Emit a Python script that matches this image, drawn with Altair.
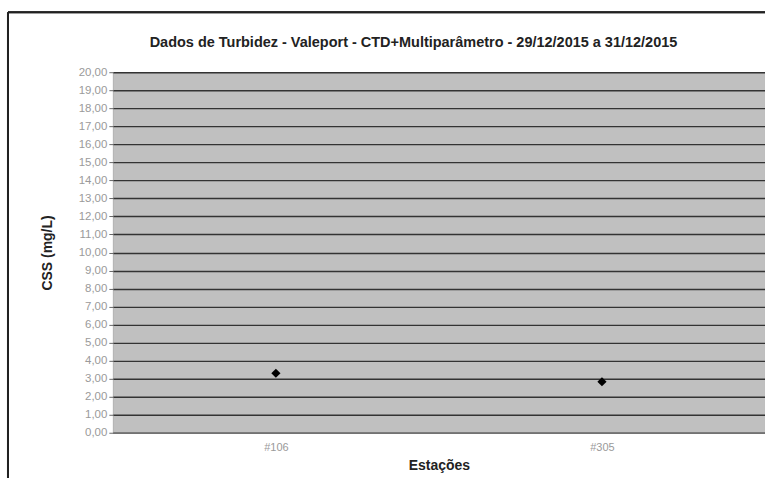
import altair as alt
import pandas as pd

estacoes = ["#106", "#305"]
css = [3.3, 2.83]
y_ticks = list(range(0, 21))
titulo = "Dados de Turbidez - Valeport - CTD+Multiparâmetro - 29/12/2015 a 31/12/2015"

df = pd.DataFrame({"Estação": estacoes, "CSS": css})

label_font = "Liberation Sans"

points = alt.Chart(df).mark_point(
    shape="diamond", filled=True, size=85, color="black", opacity=1
).encode(
    x=alt.X("Estação:N", sort=estacoes,
            scale=alt.Scale(paddingInner=0, paddingOuter=0),
            axis=alt.Axis(title="Estações", labelAngle=0, labelFontSize=11,
                          labelColor="#9a9a9a", labelFont=label_font,
                          titleFont=label_font, titleFontSize=14, titleFontWeight="bold",
                          titleColor="#222222", titlePadding=6, ticks=False,
                          domain=True, domainColor="#8a8a8a", labelPadding=9)),
    y=alt.Y("CSS:Q", scale=alt.Scale(domain=[0, 20], nice=False),
            axis=alt.Axis(title="CSS (mg/L)", values=y_ticks,
                          labelExpr="replace(format(datum.value, '.2f'), '.', ',')",
                          labelFontSize=11.5, labelColor="#9a9a9a", labelFont=label_font,
                          titleFont=label_font, titleFontSize=14, titleFontWeight="bold",
                          titleColor="#222222", titlePadding=24,
                          tickSize=4, tickColor="#666666", domain=False,
                          grid=True, gridColor="#333333", gridWidth=1.4, gridOpacity=1)),
)

title_df = pd.DataFrame({"t": [titulo]})
title_text = alt.Chart(title_df).mark_text(
    font=label_font, fontSize=14.5, fontWeight="bold", color="#222222",
    align="center", baseline="middle"
).encode(text="t:N", x=alt.value(301), y=alt.value(-29))

frame_left = alt.Chart(df).mark_rule(color="#222222", strokeWidth=2).encode(
    x=alt.value(-105), y=alt.value(-60), y2=alt.value(420))
frame_top = alt.Chart(df).mark_rule(color="#222222", strokeWidth=2).encode(
    x=alt.value(-105), x2=alt.value(700), y=alt.value(-60))

chart = alt.layer(points, title_text, frame_left, frame_top).properties(
    width=653, height=361,
    autosize=alt.AutoSizeParams(type="none"),
    padding={"left": 113, "top": 72, "right": 0, "bottom": 45},
    background="white",
).configure_view(fill="#c0c0c0", stroke="#b0b0b0")

chart.save("out.html", embed_options={"renderer": "svg", "actions": False})
